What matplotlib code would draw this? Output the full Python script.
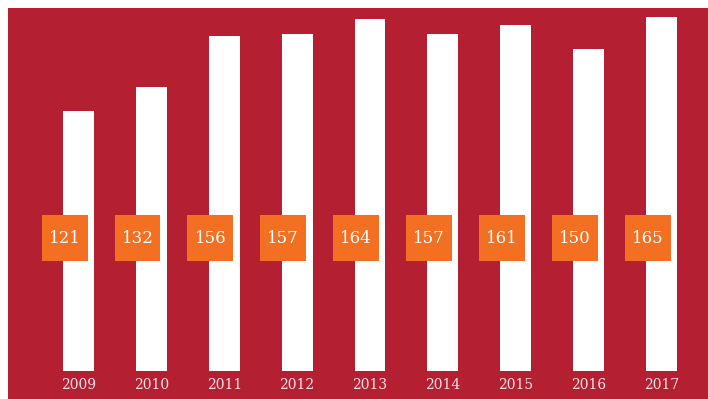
import numpy as np
import matplotlib.pyplot as plt

years = ['2009', '2010', '2011', '2012', '2013', '2014', '2015', '2016', '2017']
values = [121, 132, 156, 157, 164, 157, 161, 150, 165]

red = '#B41F32'
orange = '#F36F21'
label_col = '#F3E3E5'

fig = plt.figure(figsize=(7.08, 3.99), dpi=100, facecolor='white')
ax = fig.add_axes([8 / 708, 0, 700 / 708, 391 / 399])
ax.set_facecolor(red)

x = np.arange(len(years))
ax.bar(x, values, width=0.425, color='white', zorder=2)

# orange value boxes sit at a fixed height, nudged left of each bar
box_mid, box_h, box_w = 61.9, 21.4, 0.63
ax.bar(x - 0.19, box_h, bottom=box_mid - box_h / 2, width=box_w, color=orange, zorder=3)
for xi, v in zip(x, values):
    ax.text(xi - 0.19, box_mid, str(v), ha='center', va='center', color='white',
            fontsize=12, family='DejaVu Serif', zorder=4)

for xi, yr in zip(x, years):
    ax.text(xi, -6.6, yr, ha='center', va='center', color=label_col,
            fontsize=10, family='DejaVu Serif')

ax.set_xlim(-0.967, 8.638)
ax.set_ylim(-13.04, 169.0)
ax.set_xticks([])
ax.set_yticks([])
for s in ax.spines.values():
    s.set_visible(False)

fig.savefig('out.png', dpi=100, facecolor='white')
